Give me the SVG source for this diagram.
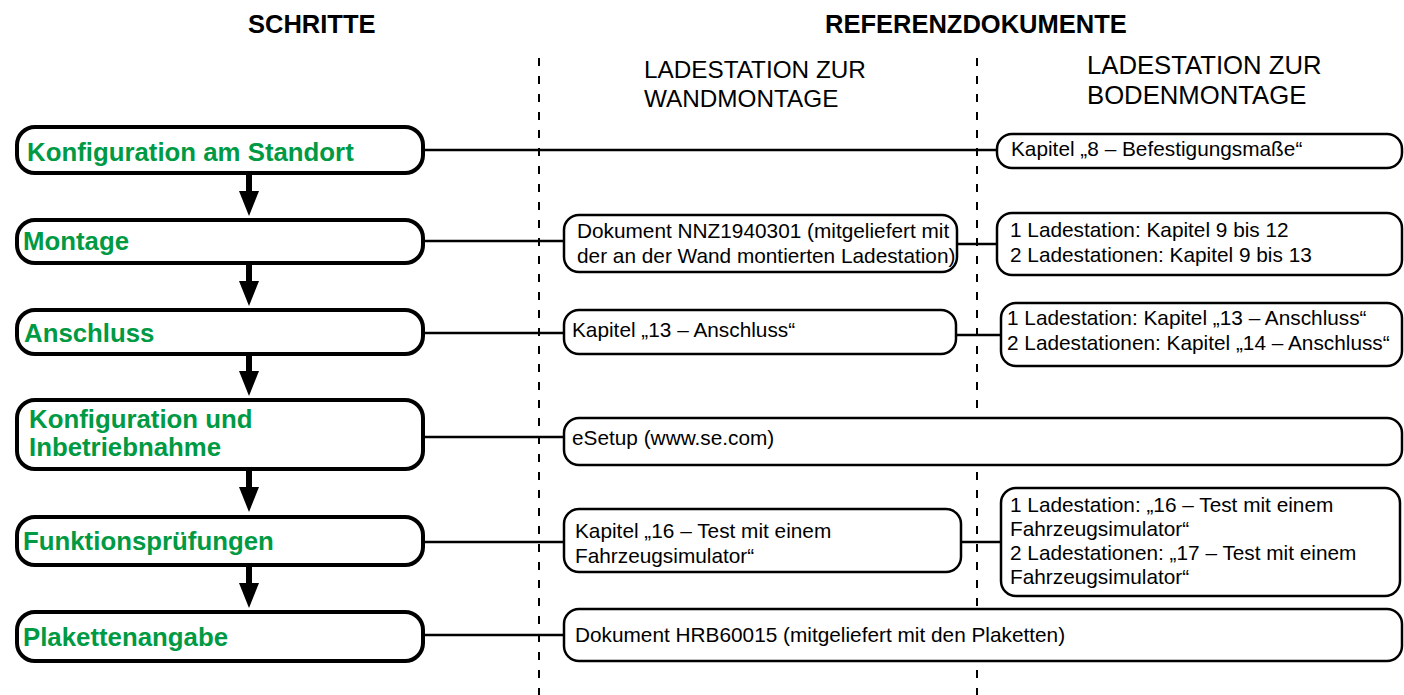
<svg xmlns="http://www.w3.org/2000/svg" width="1404" height="695" viewBox="0 0 1404 695">
<style>
.hdr{font-family:"Liberation Sans",Arial,sans-serif;font-weight:bold;font-size:25.5px;fill:#000}
.sub{font-family:"Liberation Sans",Arial,sans-serif;font-size:24.3px;fill:#000}
.subr{font-family:"Liberation Sans",Arial,sans-serif;font-size:25.7px;fill:#000}
.step rect{fill:#fff;stroke:#000;stroke-width:4}
.step text{font-family:"Liberation Sans",Arial,sans-serif;font-weight:bold;font-size:25.8px;fill:#009a44}
.ref rect{fill:#fff;stroke:#000;stroke-width:2.5}
.ref text{font-family:"Liberation Sans",Arial,sans-serif;font-size:20.8px;fill:#000}
.dash{stroke:#000;stroke-width:2;stroke-dasharray:8 10;fill:none}
.conn line{stroke:#000;stroke-width:2.5}
.arr line{stroke:#000;stroke-width:6}
.arr polygon{fill:#000}
</style>
<rect width="1404" height="695" fill="#fff"/>
<g id="headers">
<text class="hdr" x="248" y="33">SCHRITTE</text>
<text class="hdr" x="825" y="33">REFERENZDOKUMENTE</text>
<text class="sub" x="644" y="78">LADESTATION ZUR</text>
<text class="sub" x="644" y="107">WANDMONTAGE</text>
<text class="subr" x="1087" y="74">LADESTATION ZUR</text>
<text class="subr" x="1087" y="104">BODENMONTAGE</text>
</g>
<g id="dividers">
<line class="dash" x1="539" y1="58" x2="539" y2="695"/>
<line class="dash" x1="977" y1="58" x2="977" y2="695"/>
</g>
<g id="connectors" class="conn">
<line x1="425" y1="150" x2="997" y2="150"/>
<line x1="425" y1="241" x2="564" y2="241"/>
<line x1="957" y1="244" x2="997" y2="244"/>
<line x1="425" y1="333" x2="564" y2="333"/>
<line x1="956" y1="335" x2="1001" y2="335"/>
<line x1="425" y1="437" x2="564" y2="437"/>
<line x1="425" y1="542" x2="564" y2="542"/>
<line x1="961" y1="542" x2="1001" y2="542"/>
<line x1="425" y1="635" x2="564" y2="635"/>
</g>
<g id="arrows" class="arr">
<line x1="249" y1="175" x2="249" y2="193"/><polygon points="239,191 259,191 249,216"/>
<line x1="249" y1="265" x2="249" y2="283"/><polygon points="239,281 259,281 249,306"/>
<line x1="249" y1="356" x2="249" y2="373"/><polygon points="239,371 259,371 249,396"/>
<line x1="249" y1="471" x2="249" y2="489"/><polygon points="239,487 259,487 249,512"/>
<line x1="249" y1="567" x2="249" y2="585"/><polygon points="239,583 259,583 249,608"/>
</g>
<g id="step1" class="step"><rect x="17" y="127" width="406" height="46" rx="18"/><text x="27" y="161">Konfiguration am Standort</text></g>
<g id="step2" class="step"><rect x="17" y="220" width="406" height="43" rx="18"/><text x="23" y="250">Montage</text></g>
<g id="step3" class="step"><rect x="17" y="310" width="406" height="44" rx="18"/><text x="24" y="342">Anschluss</text></g>
<g id="step4" class="step"><rect x="17" y="400" width="406" height="69" rx="18"/><text x="29" y="428">Konfiguration und</text><text x="29" y="456">Inbetriebnahme</text></g>
<g id="step5" class="step"><rect x="17" y="517" width="406" height="48" rx="18"/><text x="23" y="550">Funktionsprüfungen</text></g>
<g id="step6" class="step"><rect x="17" y="612" width="406" height="49" rx="18"/><text x="23" y="646">Plakettenangabe</text></g>
<g id="ref-floor-1" class="ref"><rect x="997" y="134" width="405" height="34" rx="15"/><text x="1011" y="156">Kapitel „8 – Befestigungsmaße“</text></g>
<g id="ref-wall-2" class="ref"><rect x="564" y="215" width="393" height="57" rx="15"/><text x="577" y="238">Dokument NNZ1940301 (mitgeliefert mit</text><text x="577" y="263">der an der Wand montierten Ladestation)</text></g>
<g id="ref-floor-2" class="ref"><rect x="997" y="213" width="405" height="62" rx="15"/><text x="1010" y="237">1 Ladestation: Kapitel 9 bis 12</text><text x="1010" y="262">2 Ladestationen: Kapitel 9 bis 13</text></g>
<g id="ref-wall-3" class="ref"><rect x="564" y="310" width="392" height="44" rx="15"/><text x="572" y="337">Kapitel „13 – Anschluss“</text></g>
<g id="ref-floor-3" class="ref"><rect x="1001" y="303" width="401" height="63" rx="15"/><text x="1007" y="325">1 Ladestation: Kapitel „13 – Anschluss“</text><text x="1007" y="350">2 Ladestationen: Kapitel „14 – Anschluss“</text></g>
<g id="ref-4" class="ref"><rect x="564" y="418" width="838" height="47" rx="15"/><text x="572" y="445">eSetup (www.se.com)</text></g>
<g id="ref-wall-5" class="ref"><rect x="564" y="509" width="397" height="63" rx="15"/><text x="575" y="538">Kapitel „16 – Test mit einem</text><text x="575" y="563">Fahrzeugsimulator“</text></g>
<g id="ref-floor-5" class="ref"><rect x="1001" y="488" width="399" height="108" rx="15"/><text x="1010" y="512">1 Ladestation: „16 – Test mit einem</text><text x="1010" y="536">Fahrzeugsimulator“</text><text x="1010" y="560">2 Ladestationen: „17 – Test mit einem</text><text x="1010" y="584">Fahrzeugsimulator“</text></g>
<g id="ref-6" class="ref"><rect x="564" y="609" width="838" height="52" rx="15"/><text x="575" y="642">Dokument HRB60015 (mitgeliefert mit den Plaketten)</text></g>
</svg>
